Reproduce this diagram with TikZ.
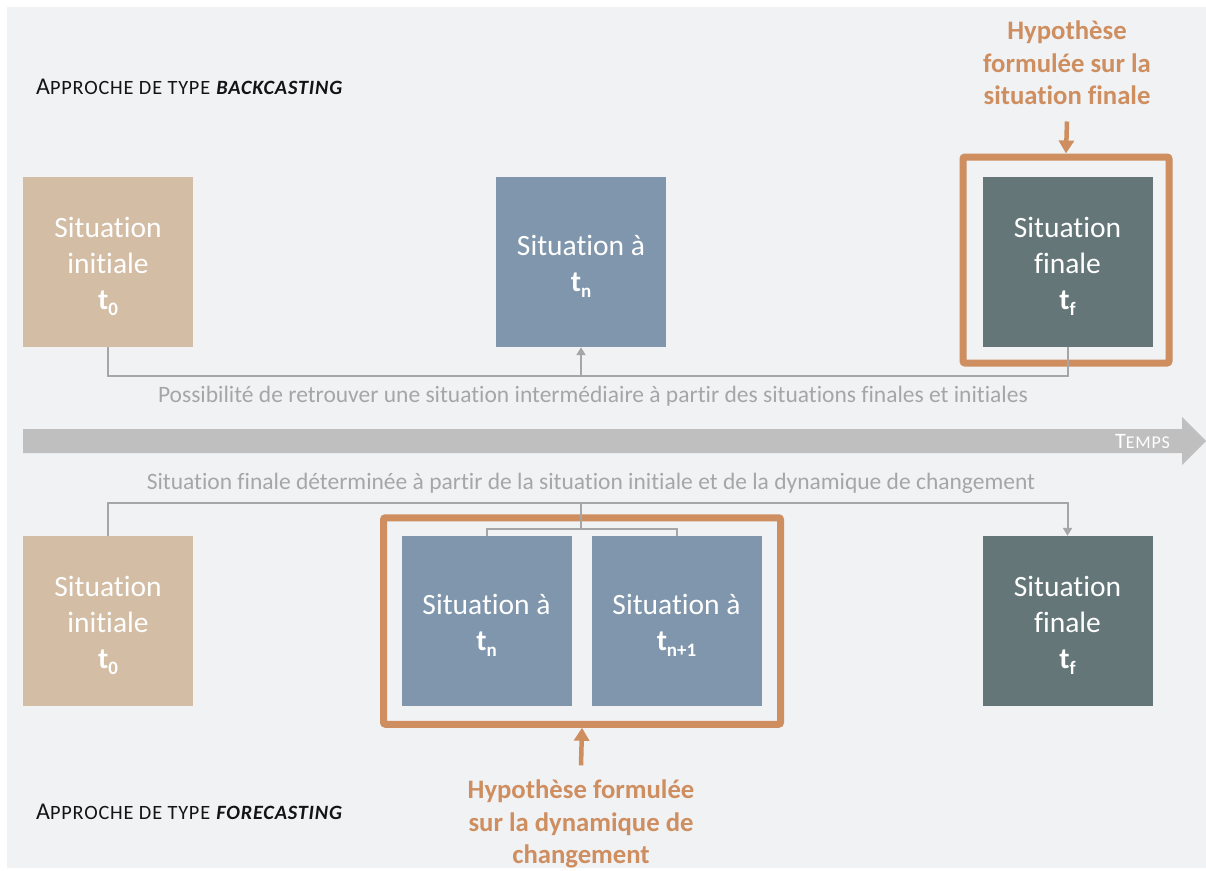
\documentclass[tikz,border=0pt]{standalone}
\usepackage{fontspec}
\setmainfont[Ligatures=NoCommon]{Carlito}
\usetikzlibrary{arrows.meta}
\definecolor{bgc}{RGB}{241,242,244}
\definecolor{beige}{RGB}{211,189,164}
\definecolor{bluec}{RGB}{127,150,173}
\definecolor{darkc}{RGB}{100,118,120}
\definecolor{orangec}{RGB}{206,142,96}
\definecolor{connc}{RGB}{166,166,166}
\definecolor{tempsc}{RGB}{191,191,191}
\definecolor{titlec}{RGB}{20,20,20}
\newcommand\tsub[1]{\textbf{t\raisebox{-0.2em}{\fontsize{19}{19}\selectfont #1}}}
\tikzset{
  sitbox/.style={minimum width=170pt, minimum height=170pt, inner sep=0pt},
  ibox/.style={sitbox, fill=beige},
  nbox/.style={sitbox, fill=bluec},
  fbox/.style={sitbox, fill=darkc},
  boxtxt/.style={text=white, align=center, inner sep=0pt, font=\fontsize{29.5}{36}\selectfont},
  oframe/.style={draw=orangec, line width=7pt, rounded corners=2pt, inner sep=0pt},
  conn/.style={draw=connc, line width=2pt},
  conntip/.style={-{Triangle[width=9pt,length=8pt]}},
  harrow/.style={draw=orangec, line width=4.5pt, -{Triangle[width=15pt,length=13pt]}},
  hyp/.style={text=orangec, align=center, font=\fontsize{26.7}{32.5}\selectfont\bfseries},
  captxt/.style={text=connc, font=\fontsize{23.5}{26}\selectfont},
  titletxt/.style={text=titlec, anchor=base west, inner sep=0pt},
}
\begin{document}
\begin{tikzpicture}[x=1pt,y=-1pt]
\useasboundingbox (0,0) rectangle (1206,870);
\fill[bgc] (7,7) rectangle (1206,868);

% titles
\node[titletxt] (t1) at (36,94) {\addfontfeatures{LetterSpace=4}{\fontsize{24}{24}\selectfont A}{\fontsize{20.3}{20.3}\selectfont PPROCHE DE TYPE \textbf{\textit{BACKCASTING}}}};
\node[titletxt] (t2) at (36,819) {\addfontfeatures{LetterSpace=4}{\fontsize{24}{24}\selectfont A}{\fontsize{20.3}{20.3}\selectfont PPROCHE DE TYPE \textbf{\textit{FORECASTING}}}};

% top row
\node[ibox] (ti1) at (108,262) {};
\node[boxtxt] (ti1t) at ([yshift=-4pt]ti1.center) {Situation\\initiale\\\tsub{0}};
\node[nbox] (tn1) at (581,262) {};
\node[boxtxt] (tn1t) at ([yshift=-4pt]tn1.center) {Situation à\\\tsub{n}};
\node[fbox] (tf1) at (1067.5,262) {};
\node[boxtxt] (tf1t) at ([yshift=-4pt]tf1.center) {Situation\\finale\\\tsub{f}};
\node[oframe, minimum width=206pt, minimum height=206pt] (fr1) at (1066,260) {};
\node[hyp] (h1) at (1067,63) {Hypothèse\\formulée sur la\\situation finale};
\draw[harrow] ([yshift=-13pt]h1.south) -- (fr1.north);

\coordinate (busT) at (581,376);
\draw[conn] (ti1.south) |- (busT) -| (tf1.south);
\draw[conn,conntip] (busT) -- (tn1.south);
\node[captxt] (c1) at (593,396) {Possibilité de retrouver une situation intermédiaire à partir des situations finales et initiales};

% time arrow
\fill[tempsc] (23,429) -- (1182,429) -- (1182,417) -- (1206,441) -- (1182,465) -- (1182,453) -- (23,453) -- cycle;
\node[text=white, anchor=east, inner sep=0pt] (temps) at (1170,441) {\addfontfeatures{LetterSpace=4}{\fontsize{22}{22}\selectfont T}{\fontsize{18}{18}\selectfont EMPS}};

% bottom row
\node[captxt] (c2) at (591,483) {Situation finale déterminée à partir de la situation initiale et de la dynamique de changement};
\node[ibox] (ti2) at (108,621) {};
\node[boxtxt] (ti2t) at ([yshift=-4pt]ti2.center) {Situation\\initiale\\\tsub{0}};
\node[nbox] (tn2a) at (486.5,621) {};
\node[boxtxt] (tn2at) at ([yshift=-4pt]tn2a.center) {Situation à\\\tsub{n}};
\node[nbox] (tn2b) at (676.5,621) {};
\node[boxtxt] (tn2bt) at ([yshift=-4pt]tn2b.center) {Situation à\\\tsub{n+1}};
\node[fbox] (tf2) at (1067.5,621) {};
\node[boxtxt] (tf2t) at ([yshift=-4pt]tf2.center) {Situation\\finale\\\tsub{f}};
\node[oframe, minimum width=397pt, minimum height=206.5pt] (fr2) at (582,621) {};

\coordinate (busB) at (581,503);
\coordinate (brB) at (581,529);
\draw[conn] (ti2.north) |- (busB);
\draw[conn,conntip] (busB) -| (tf2.north);
\draw[conn] (busB) -- (brB);
\draw[conn] (tn2a.north) |- (brB) -| (tn2b.north);

\node[hyp] (h2) at (581,824) {Hypothèse formulée\\sur la dynamique de\\changement};
\draw[harrow] ([yshift=11pt]h2.north) -- (fr2.south);
\end{tikzpicture}
\end{document}
